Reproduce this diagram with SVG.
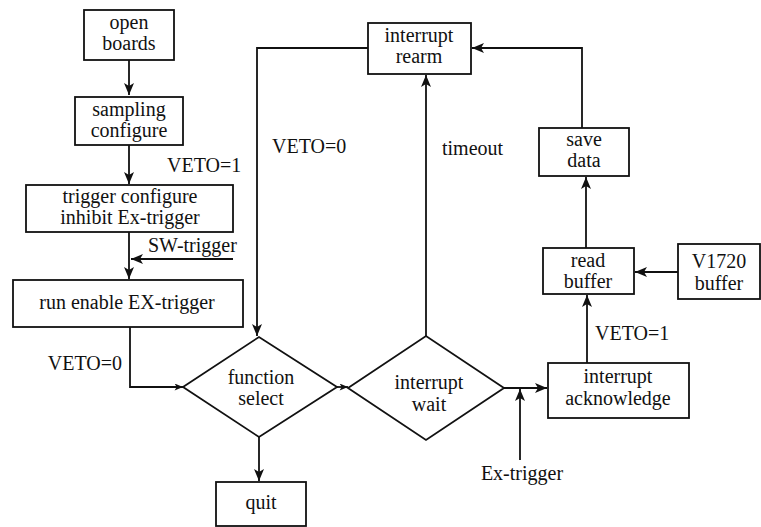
<svg xmlns="http://www.w3.org/2000/svg" width="761" height="527" viewBox="0 0 761 527">
<style>
.box{fill:#fff;stroke:#111;stroke-width:1.8}
.ln{fill:none;stroke:#111;stroke-width:1.8}
text{font-family:'Liberation Serif','DejaVu Serif',serif;font-size:20px;fill:#111;text-anchor:middle}
.l{text-anchor:start}
.r{text-anchor:end}
</style>
<defs>
<marker id="ah" viewBox="0 0 12 10" refX="12" refY="5" markerWidth="12" markerHeight="10" markerUnits="userSpaceOnUse" orient="auto">
<path d="M0,0 L12,5 L0,10 L3,5 Z" fill="#111"/>
</marker>
<marker id="as" viewBox="0 0 12 10" refX="12" refY="5" markerWidth="9" markerHeight="7" markerUnits="userSpaceOnUse" orient="auto">
<path d="M0,0 L12,5 L0,10 L3,5 Z" fill="#111"/>
</marker>
</defs>
<rect width="761" height="527" fill="#fff"/>
<g id="connectors">
<path class="ln" d="M129,60 V95" marker-end="url(#ah)"/>
<path class="ln" d="M129,145 V184" marker-end="url(#ah)"/>
<path class="ln" d="M129,232 V279" marker-end="url(#ah)"/>
<path class="ln" d="M233,259 H131" marker-end="url(#ah)"/>
<path class="ln" d="M130,327 V387 H183" marker-end="url(#as)"/>
<path class="ln" d="M259,437 V481" marker-end="url(#ah)"/>
<path class="ln" d="M337,387 H348" marker-end="url(#as)"/>
<path class="ln" d="M426,336 V75" marker-end="url(#ah)"/>
<path class="ln" d="M368,48 H257 V336" marker-end="url(#ah)"/>
<path class="ln" d="M582,128 V48 H472" marker-end="url(#ah)"/>
<path class="ln" d="M586,248 V177" marker-end="url(#ah)"/>
<path class="ln" d="M678,272 H635" marker-end="url(#ah)"/>
<path class="ln" d="M587,363 V295" marker-end="url(#ah)"/>
<path class="ln" d="M504,388 H547" marker-end="url(#ah)"/>
<path class="ln" d="M520,460 V389" marker-end="url(#ah)"/>
</g>
<g id="open-boards">
<rect class="box" x="84" y="10" width="90" height="50"/>
<text x="129" y="29" font-family="Liberation Serif, serif">open</text>
<text x="129" y="50" font-family="Liberation Serif, serif">boards</text>
</g>
<g id="sampling-configure">
<rect class="box" x="75" y="97" width="108" height="48"/>
<text x="129" y="116">sampling</text>
<text x="129" y="137">configure</text>
</g>
<g id="trigger-configure">
<rect class="box" x="26" y="185" width="207" height="47"/>
<text x="130" y="203">trigger configure</text>
<text x="130" y="224">inhibit Ex-trigger</text>
</g>
<g id="run-enable">
<rect class="box" x="13" y="280" width="230" height="47"/>
<text x="127" y="309">run enable EX-trigger</text>
</g>
<g id="function-select">
<polygon class="box" points="183,387 259,337 337,387 259,437"/>
<text x="261" y="384">function</text>
<text x="261" y="405">select</text>
</g>
<g id="quit">
<rect class="box" x="216" y="482" width="90" height="44"/>
<text x="261" y="509">quit</text>
</g>
<g id="interrupt-wait">
<polygon class="box" points="348,388 426,336 504,388 426,440"/>
<text x="429" y="389">interrupt</text>
<text x="429" y="411">wait</text>
</g>
<g id="interrupt-rearm">
<rect class="box" x="368" y="23" width="103" height="51"/>
<text x="419" y="42">interrupt</text>
<text x="419" y="63">rearm</text>
</g>
<g id="save-data">
<rect class="box" x="539" y="128" width="90" height="48"/>
<text x="584" y="146">save</text>
<text x="584" y="167">data</text>
</g>
<g id="read-buffer">
<rect class="box" x="543" y="248" width="91" height="46"/>
<text x="588" y="267">read</text>
<text x="588" y="288">buffer</text>
</g>
<g id="v1720-buffer">
<rect class="box" x="678" y="244" width="82" height="55"/>
<text x="719" y="268">V1720</text>
<text x="719" y="290">buffer</text>
</g>
<g id="interrupt-acknowledge">
<rect class="box" x="548" y="363" width="141" height="55"/>
<text x="618" y="383">interrupt</text>
<text x="618" y="405">acknowledge</text>
</g>
<g id="labels">
<text class="l" x="167" y="172">VETO=1</text>
<text class="l" x="148" y="252">SW-trigger</text>
<text class="r" x="122" y="370">VETO=0</text>
<text class="l" x="272" y="153">VETO=0</text>
<text class="l" x="442" y="155">timeout</text>
<text class="l" x="595" y="340">VETO=1</text>
<text x="522" y="480">Ex-trigger</text>
</g>
</svg>
